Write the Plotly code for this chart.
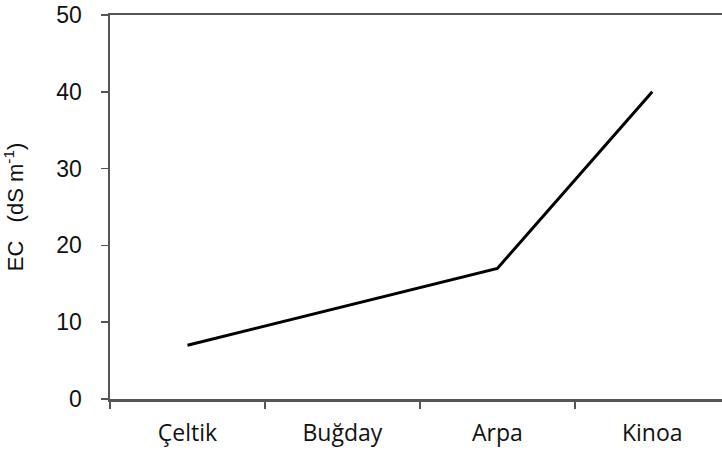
import plotly.graph_objects as go

categories = ["Çeltik", "Buğday", "Arpa", "Kinoa"]
ec_values = [7, 12, 17, 40]
y_ticks = [0, 10, 20, 30, 40, 50]

fig = go.Figure()
fig.add_trace(go.Scatter(
    x=categories, y=ec_values, mode="lines",
    line=dict(color="black", width=3),
    showlegend=False,
))

axis_color = "#555555"
fig.update_layout(
    width=722, height=457,
    margin=dict(l=110, r=0, t=15, b=58, autoexpand=False),
    plot_bgcolor="white", paper_bgcolor="white",
    xaxis=dict(
        type="category", range=[-0.5, 3.45],
        showline=True, linecolor=axis_color, linewidth=2.5, mirror=True,
        ticks="outside", tickson="boundaries", ticklen=7, tickwidth=1.5, tickcolor=axis_color,
        showgrid=False, zeroline=False, ticklabelstandoff=12,
        tickfont=dict(family="Open Sans", size=23, color="#111"),
    ),
    yaxis=dict(
        range=[0, 50], tickvals=y_ticks,
        showline=True, linecolor=axis_color, linewidth=2.5,
        ticks="outside", ticklen=7, tickwidth=1.5, tickcolor=axis_color,
        showgrid=False, zeroline=False, ticklabelstandoff=14, ticklabeloverflow="allow",
        tickfont=dict(family="Liberation Sans", size=23, color="#111"),
        title=dict(text="EC   (dS m<sup>-1</sup>)", font=dict(family="Liberation Sans", size=22, color="#111"), standoff=28),
    ),
)

fig.write_html(
    "out.html",
    config={"displayModeBar": False, "staticPlot": True},
    post_script="document.body.style.margin='0';document.body.style.overflow='hidden';",
)
